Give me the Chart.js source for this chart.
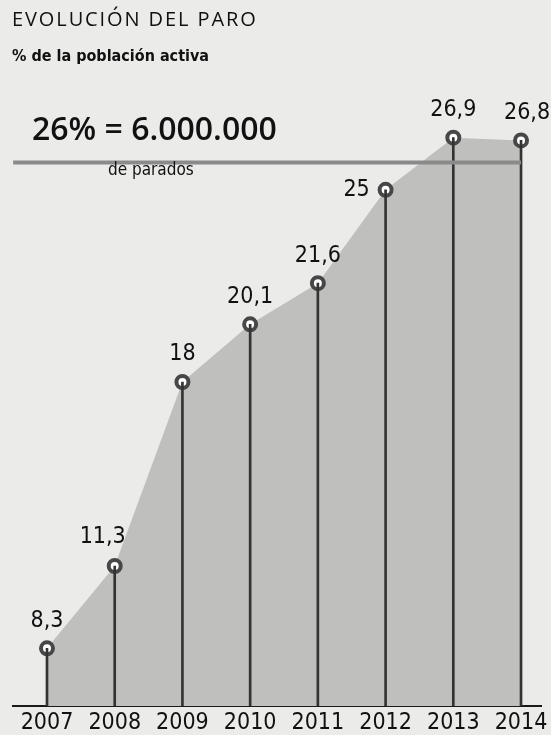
<!DOCTYPE html>
<html>
<head>
<meta charset="utf-8">
<script src="https://cdn.jsdelivr.net/npm/chart.js@4"></script>
<style>
  body { margin: 0; background: #ebebea; }
  #wrap { position: relative; width: 551px; height: 735px; }
  canvas { position: absolute; left: 0; top: 0; }
  .txt { position: absolute; color: #111; font-family: "Open Sans", "DejaVu Sans", sans-serif; white-space: nowrap; }
  #title { left: 12px; top: 5px; font-size: 20px; letter-spacing: 1.9px; }
  #sub { left: 12px; top: 46px; font-size: 16px; font-weight: bold; font-family: "DejaVu Sans Condensed", "Open Sans", sans-serif; }
  #big { left: 32px; top: 106px; font-size: 32px; font-weight: 600; font-family: "Open Sans", sans-serif; letter-spacing: 0px; }
  #parados { left: 108px; top: 159px; font-size: 17px; font-family: "DejaVu Sans Condensed", "Open Sans", sans-serif; }
</style>
</head>
<body>
<div id="wrap">
  <canvas id="chart" width="551" height="735"></canvas>
  <div class="txt" id="title">EVOLUCIÓN DEL PARO</div>
  <div class="txt" id="sub">% de la población activa</div>
  <div class="txt" id="big">26% = 6.000.000</div>
  <div class="txt" id="parados">de parados</div>
</div>
<script>
// Tasa de paro, % de la población activa
const years = ['2007', '2008', '2009', '2010', '2011', '2012', '2013', '2014'];
const paro = [8.3, 11.3, 18, 20.1, 21.6, 25, 26.9, 26.8];
const valueLabels = ['8,3', '11,3', '18', '20,1', '21,6', '25', '26,9', '26,8'];
const refValue = 26;

const points = paro.map((v, i) => ({ x: i, y: v }));
const refLine = [{ x: -0.5, y: refValue }, { x: years.length - 1, y: refValue }];

// labels above the points
const labelPlugin = {
    id: 'valueLabels',
    afterDatasetsDraw(chart) {
        const ctx = chart.ctx;
        const meta = chart.getDatasetMeta(2);
        ctx.save();
        ctx.fillStyle = '#111';
        ctx.font = '23px "DejaVu Sans Condensed", "Open Sans", sans-serif';
        ctx.textAlign = 'center';
        ctx.textBaseline = 'bottom';
        meta.data.forEach((pt, i) => {
            let dx = 0, dy = -16;
            if (i === 1) { dx = -12; dy = -17; }
            if (i === 7) dx = 6;
            if (i === 5) {
                ctx.textBaseline = 'middle';
                ctx.fillText(valueLabels[i], pt.x - 29, pt.y);
                ctx.textBaseline = 'bottom';
                return;
            }
            ctx.fillText(valueLabels[i], pt.x + dx, pt.y + dy);
        });
        ctx.restore();
    }
};

new Chart(document.getElementById('chart'), {
    data: {
        datasets: [
            {
                type: 'bar',
                data: points,
                backgroundColor: '#333333',
                barThickness: 2,
                order: 2
            },
            {
                type: 'line',
                data: refLine,
                borderColor: '#8a8a8a',
                borderWidth: 4,
                pointRadius: 0,
                fill: false,
                order: 1
            },
            {
                type: 'line',
                data: points,
                borderColor: 'rgba(0,0,0,0)',
                borderWidth: 0,
                backgroundColor: '#bfbfbd',
                fill: 'start',
                pointRadius: 6,
                pointBorderWidth: 4,
                pointBorderColor: '#474747',
                pointBackgroundColor: '#ffffff',
                order: 3
            }
        ]
    },
    options: {
        responsive: false,
        animation: false,
        events: [],
        layout: { padding: { left: 13, right: 0, top: 0, bottom: 0 } },
        plugins: { legend: { display: false }, tooltip: { enabled: false } },
        scales: {
            x: {
                type: 'linear',
                offset: false,
                min: -0.502,
                max: 7.295,
                grid: { display: false, drawTicks: false, offset: false },
                border: { color: '#1a1a1a', width: 2 },
                afterBuildTicks(scale) {
                    scale.ticks = years.map((y, i) => ({ value: i }));
                },
                afterFit(scale) {
                    scale.paddingLeft = 0;
                    scale.paddingRight = 0;
                    scale.height = 29;
                },
                ticks: {
                    color: '#111',
                    padding: 3,
                    font: { size: 23, family: '"DejaVu Sans Condensed", "Open Sans", sans-serif' },
                    callback: (v) => years[v]
                }
            },
            y: {
                display: false,
                min: 6.2,
                max: 31.55
            }
        }
    },
    plugins: [labelPlugin]
});
</script>
</body>
</html>
